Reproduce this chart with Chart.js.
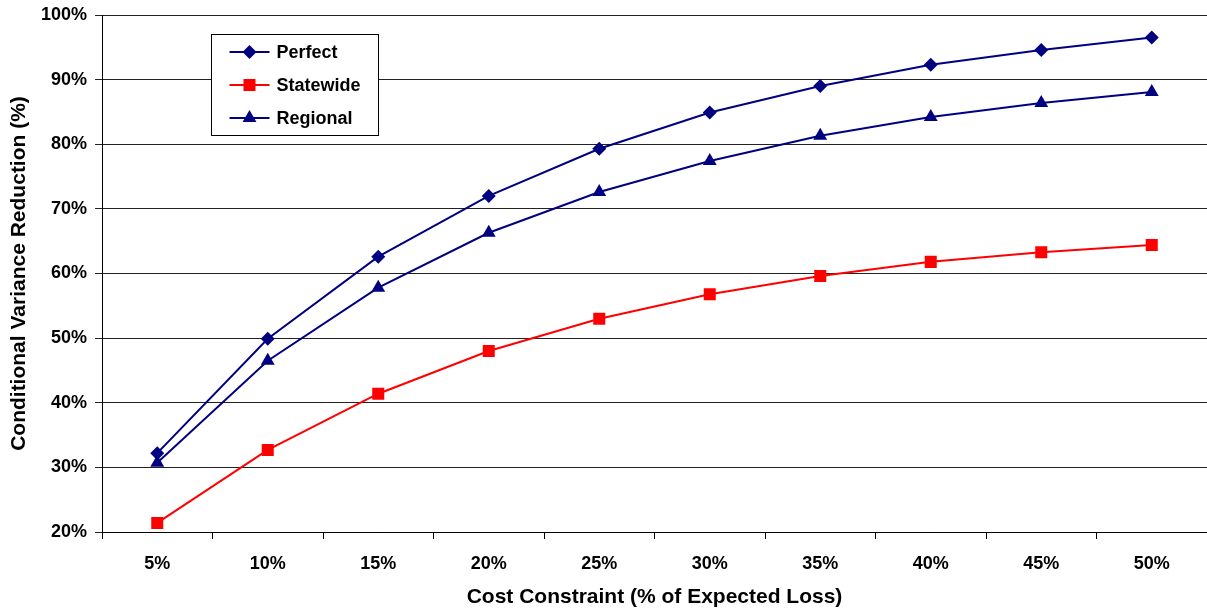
<!DOCTYPE html>
<html>
<head>
<meta charset="utf-8">
<script src="https://cdn.jsdelivr.net/npm/chart.js@4/dist/chart.umd.min.js"></script>
<style>
  html, body { margin: 0; padding: 0; background: #fff; }
  #wrap { width: 1207px; height: 612px; position: relative; }
</style>
</head>
<body>
<div id="wrap"><canvas id="c" width="1207" height="612"></canvas></div>
<script>
const categories = ['5%', '10%', '15%', '20%', '25%', '30%', '35%', '40%', '45%', '50%'];
const perfect   = [32.2, 49.9, 62.6, 72.0, 79.3, 84.9, 89.0, 92.3, 94.6, 96.5];
const statewide = [21.4, 32.7, 41.4, 48.0, 53.0, 56.8, 59.6, 61.8, 63.3, 64.4];
const regional  = [30.7, 46.5, 57.8, 66.3, 72.6, 77.4, 81.3, 84.2, 86.4, 88.1];
const yTicks = [20, 30, 40, 50, 60, 70, 80, 90, 100];
const xTitle = 'Cost Constraint (% of Expected Loss)';
const yTitle = 'Conditional Variance Reduction (%)';

const FONT = '"Liberation Sans", Arial, sans-serif';

function drawMarker(ctx, style, x, y, r, color) {
  ctx.save();
  ctx.fillStyle = color;
  ctx.beginPath();
  if (style === 'rectRot') {
    ctx.moveTo(x, y - r); ctx.lineTo(x + r, y); ctx.lineTo(x, y + r); ctx.lineTo(x - r, y);
  } else if (style === 'rect') {
    const s = r * Math.SQRT1_2;
    ctx.rect(x - s, y - s, 2 * s, 2 * s);
  } else {
    const w = r * Math.sqrt(3) / 2;
    ctx.moveTo(x, y - r); ctx.lineTo(x + w, y + r / 2); ctx.lineTo(x - w, y + r / 2);
  }
  ctx.closePath();
  ctx.fill();
  ctx.restore();
}

const boxLegend = {
  id: 'boxLegend',
  afterDraw(chart) {
    const ctx = chart.ctx;
    const a = chart.chartArea;
    const bx = a.left + 109.5, by = a.top + 19.5, bw = 167, bh = 101;
    ctx.save();
    ctx.fillStyle = '#fff';
    ctx.fillRect(bx, by, bw, bh);
    ctx.strokeStyle = '#000';
    ctx.lineWidth = 1;
    ctx.strokeRect(bx, by, bw, bh);
    chart.data.datasets.forEach((ds, i) => {
      const cy = by + 17.5 + i * 33;
      ctx.strokeStyle = ds.borderColor;
      ctx.lineWidth = 2;
      ctx.beginPath();
      ctx.moveTo(bx + 18, cy); ctx.lineTo(bx + 58, cy);
      ctx.stroke();
      drawMarker(ctx, ds.pointStyle, bx + 38, cy, ds.pointRadius, ds.backgroundColor);
      ctx.fillStyle = '#000';
      ctx.font = 'bold 18px ' + FONT;
      ctx.textBaseline = 'middle';
      ctx.textAlign = 'left';
      ctx.fillText(ds.label, bx + 65, cy + 1);
    });
    ctx.restore();
  }
};

new Chart(document.getElementById('c'), {
  type: 'line',
  data: {
    labels: categories,
    datasets: [
      { label: 'Perfect', data: perfect, borderColor: '#000080', backgroundColor: '#000080',
        pointStyle: 'rectRot', pointRadius: 7, borderWidth: 2, pointBorderWidth: 0 },
      { label: 'Statewide', data: statewide, borderColor: '#FF0000', backgroundColor: '#FF0000',
        pointStyle: 'rect', pointRadius: 8.5, borderWidth: 2, pointBorderWidth: 0 },
      { label: 'Regional', data: regional, borderColor: '#000080', backgroundColor: '#000080',
        pointStyle: 'triangle', pointRadius: 8, borderWidth: 2, pointBorderWidth: 0 }
    ]
  },
  options: {
    responsive: false,
    animation: false,
    devicePixelRatio: 1,
    layout: { autoPadding: false, padding: { top: 15, right: 0, left: 0, bottom: 0 } },
    plugins: { legend: { display: false }, tooltip: { enabled: false } },
    elements: { line: { tension: 0 } },
    scales: {
      x: {
        offset: true,
        grid: { display: true, drawOnChartArea: false, drawTicks: true, tickLength: 7, color: '#000', offset: true },
        border: { display: true, color: '#000', width: 1 },
        ticks: { color: '#000', font: { family: FONT, size: 18, weight: 'bold' }, padding: 14 },
        title: { display: true, text: xTitle, color: '#000', font: { family: FONT, size: 21, weight: 'bold' }, padding: { top: 4, bottom: 2 } },
        afterFit(s) { s.height = 80; s.paddingLeft = 0; s.paddingRight = 0; }
      },
      y: {
        min: 20, max: 100,
        afterBuildTicks(s) { s.ticks = yTicks.map(v => ({ value: v })); },
        grid: { color: '#222', lineWidth: 1, drawTicks: true, tickLength: 7 },
        border: { display: true, color: '#000', width: 1 },
        ticks: { color: '#000', font: { family: FONT, size: 18, weight: 'bold' }, padding: 8, callback: v => v + '%' },
        title: { display: true, text: yTitle, color: '#000', font: { family: FONT, size: 21, weight: 'bold' }, padding: { top: 7, bottom: 4 } },
        afterFit(s) { s.width = 102; s.paddingTop = 0; s.paddingBottom = 0; }
      }
    }
  },
  plugins: [boxLegend]
});
</script>
</body>
</html>
